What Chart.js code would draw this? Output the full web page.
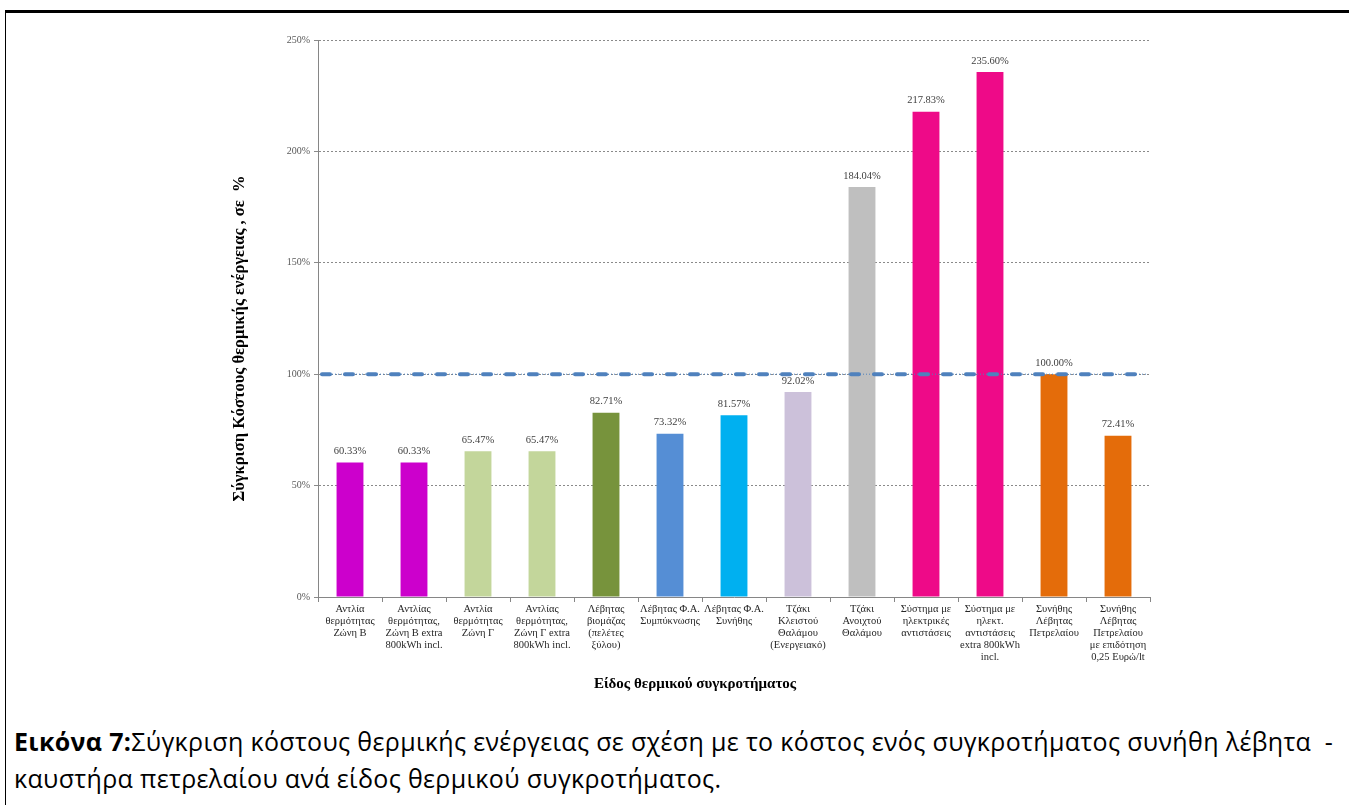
<!DOCTYPE html>
<html>
<head>
<meta charset="utf-8">
<script src="https://cdn.jsdelivr.net/npm/chart.js@4/dist/chart.umd.min.js"></script>
<style>
  html, body { margin: 0; padding: 0; background: #fff; }
  body { width: 1349px; height: 805px; position: relative; overflow: hidden; }
  #frame { position: absolute; left: 5px; top: 10px; right: -5px; bottom: -5px;
           border-left: 1.5px solid #000; border-top: 3px solid #000; }
  #chartBox { position: absolute; left: 0; top: 0; width: 1349px; height: 710px; }
  #caption { position: absolute; left: 14px; top: 723px; font-family: "Open Sans", sans-serif;
             font-size: 25px; letter-spacing: 0.35px; line-height: 37px; color: #000; white-space: nowrap; }
</style>
</head>
<body>
<div id="frame"></div>
<div id="chartBox"><canvas id="costChart" width="1349" height="710"></canvas></div>
<div id="caption"><b>Εικόνα 7:</b>Σύγκριση κόστους θερμικής ενέργειας σε σχέση με το κόστος ενός συγκροτήματος συνήθη λέβητα &nbsp;-<br>καυστήρα πετρελαίου ανά είδος θερμικού συγκροτήματος.</div>
<script>
  const categories = [
    ['Αντλία', 'θερμότητας', 'Ζώνη Β'],
    ['Αντλίας', 'θερμότητας,', 'Ζώνη Β extra', '800kWh incl.'],
    ['Αντλία', 'θερμότητας', 'Ζώνη Γ'],
    ['Αντλίας', 'θερμότητας,', 'Ζώνη Γ extra', '800kWh incl.'],
    ['Λέβητας', 'βιομάζας', '(πελέτες', 'ξύλου)'],
    ['Λέβητας Φ.Α.', 'Συμπύκνωσης'],
    ['Λέβητας Φ.Α.', 'Συνήθης'],
    ['Τζάκι', 'Κλειστού', 'Θαλάμου', '(Ενεργειακό)'],
    ['Τζάκι', 'Ανοιχτού', 'Θαλάμου'],
    ['Σύστημα με', 'ηλεκτρικές', 'αντιστάσεις'],
    ['Σύστημα με', 'ηλεκτ.', 'αντιστάσεις', 'extra 800kWh', 'incl.'],
    ['Συνήθης', 'Λέβητας', 'Πετρελαίου'],
    ['Συνήθης', 'Λέβητας', 'Πετρελαίου', 'με επιδότηση', '0,25 Ευρώ/lt']
  ];
  const costPercent = [60.33, 60.33, 65.47, 65.47, 82.71, 73.32, 81.57, 92.02, 184.04, 217.83, 235.60, 100.00, 72.41];
  const barColors = ['#cc00cc', '#cc00cc', '#c3d69b', '#c3d69b', '#77933c', '#558ed5', '#00b0f0',
                     '#ccc1da', '#bfbfbf', '#ee0a88', '#ee0a88', '#e46c0a', '#e46c0a'];
  const yTicks = [0, 50, 100, 150, 200, 250];
  const referenceLevel = 100;

  const yTitle = 'Σύγκριση Κόστους θερμικής ενέργειας , σε  %';
  const xTitle = 'Είδος θερμικού συγκροτήματος';

  // value labels above each bar
  const valueLabels = {
    id: 'valueLabels',
    afterDatasetsDraw(chart) {
      const ctx = chart.ctx;
      const meta = chart.getDatasetMeta(0);
      ctx.save();
      ctx.font = '10.5px "Liberation Serif", serif';
      ctx.fillStyle = '#404040';
      ctx.textAlign = 'center';
      ctx.textBaseline = 'middle';
      meta.data.forEach((bar, i) => {
        ctx.fillText(costPercent[i].toFixed(2) + '%', bar.x, bar.y - 11);
      });
      ctx.restore();
    }
  };

  // dash-dot line at the 100% level
  const referenceLine = {
    id: 'referenceLine',
    afterDatasetsDraw(chart) {
      const ctx = chart.ctx;
      const area = chart.chartArea;
      const y = chart.scales.y.getPixelForValue(referenceLevel);
      ctx.save();
      ctx.strokeStyle = '#4f81bd';
      ctx.lineWidth = 1;
      ctx.setLineDash([1, 2]);
      ctx.beginPath();
      ctx.moveTo(area.left + 2, y);
      ctx.lineTo(area.right - 3, y);
      ctx.stroke();
      ctx.lineWidth = 4;
      ctx.lineCap = 'round';
      ctx.setLineDash([8, 15]);
      ctx.beginPath();
      ctx.moveTo(area.left + 4, y);
      ctx.lineTo(area.right - 3, y);
      ctx.stroke();
      ctx.restore();
    }
  };

  // axis titles, placed like the original
  const axisTitles = {
    id: 'axisTitles',
    afterDraw(chart) {
      const ctx = chart.ctx;
      const area = chart.chartArea;
      ctx.save();
      ctx.fillStyle = '#000';
      ctx.textAlign = 'center';
      ctx.textBaseline = 'middle';
      ctx.font = 'bold 15px "Liberation Serif", serif';
      ctx.fillText(xTitle, (area.left + area.right) / 2 - 39, 684);
      ctx.translate(240, (area.top + area.bottom) / 2 + 20);
      ctx.rotate(-Math.PI / 2);
      ctx.font = 'bold 16.5px "Liberation Serif", serif';
      ctx.fillText(yTitle, 0, 0);
      ctx.restore();
    }
  };

  new Chart(document.getElementById('costChart'), {
    type: 'bar',
    data: {
      labels: categories,
      datasets: [{
        data: costPercent,
        backgroundColor: barColors,
        borderWidth: 0,
        barPercentage: 0.42,
        categoryPercentage: 1
      }]
    },
    options: {
      responsive: false,
      animation: false,
      layout: { padding: { left: 230, right: 199, top: 40, bottom: 14 } },
      plugins: {
        legend: { display: false },
        tooltip: { enabled: false }
      },
      scales: {
        x: {
          afterFit(scale) { scale.height = 99; },
          grid: { display: true, drawOnChartArea: false, drawTicks: true, tickLength: 5, color: '#868686', offset: true },
          border: { display: true, color: '#868686', width: 1 },
          ticks: {
            autoSkip: false, maxRotation: 0, minRotation: 0, padding: 1,
            color: '#262626',
            font: { family: '"Liberation Serif", serif', size: 10.5, lineHeight: 1.14 }
          }
        },
        y: {
          min: 0, max: 250,
          afterFit(scale) { scale.width = 88; },
          afterBuildTicks(scale) { scale.ticks = yTicks.map(v => ({ value: v })); },
          grid: { color: '#8a8a8a', lineWidth: 1, tickLength: 4, drawTicks: true, tickBorderDash: [] },
          border: { display: true, color: '#868686', width: 1, dash: [2, 2] },
          ticks: {
            padding: 4, color: '#595959',
            font: { family: '"Liberation Serif", serif', size: 10 },
            callback: v => v + '%'
          }
        }
      }
    },
    plugins: [valueLabels, referenceLine, axisTitles]
  });
</script>
</body>
</html>
